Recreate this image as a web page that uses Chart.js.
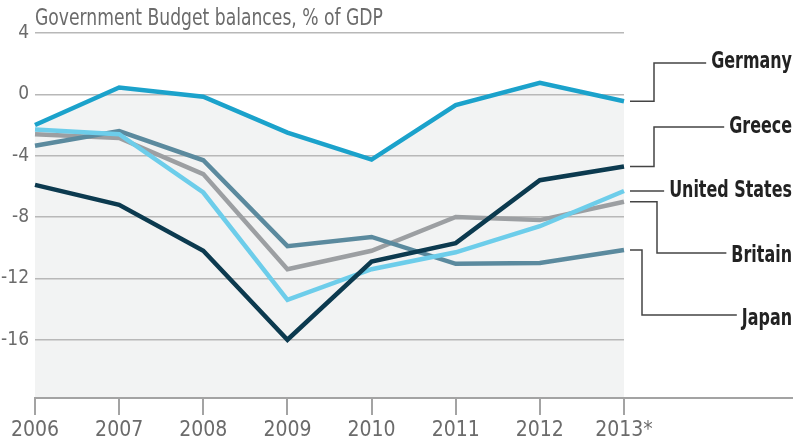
<!DOCTYPE html>
<html><head><meta charset="utf-8">
<script src="https://cdn.jsdelivr.net/npm/chart.js@4"></script>
<style>html,body{margin:0;padding:0;background:#fff}canvas{display:block}</style>
</head><body>
<canvas id="c" width="793" height="443"></canvas>
<script>
// ---- data ----
const years = ['2006','2007','2008','2009','2010','2011','2012','2013*'];
const germany      = [-2.0, 0.45, -0.15, -2.5, -4.25, -0.7, 0.75, -0.45];
const greece       = [-5.9, -7.2, -10.2, -16.0, -10.9, -9.7, -5.6, -4.7];
const unitedStates = [-2.3, -2.6, -6.4, -13.4, -11.4, -10.3, -8.6, -6.3];
const britain      = [-2.6, -2.85, -5.2, -11.4, -10.2, -8.0, -8.2, -7.0];
const japan        = [-3.35, -2.4, -4.3, -9.9, -9.3, -11.05, -11.0, -10.15];
const yTicks = [4, 0, -4, -8, -12, -16];
const titleText = 'Government Budget balances, % of GDP';

// ---- styles / layout ----
const FONT = '"DejaVu Sans Condensed","Liberation Sans Narrow","Arial Narrow",sans-serif';
const TXT = '#6b6b6b';
const series = [
  {name:'Germany',       data:germany,      color:'#1ba2cb', order:5, lab:{base:68,  elbowY:63,   elbowX:654}},
  {name:'Greece',        data:greece,       color:'#0c3a4f', order:1, lab:{base:133, elbowY:127,  elbowX:654}},
  {name:'United States', data:unitedStates, color:'#6dcdea', order:2, lab:{base:197, elbowY:null, elbowX:646}},
  {name:'Britain',       data:britain,      color:'#9c9fa2', order:4, lab:{base:262, elbowY:253,  elbowX:657}},
  {name:'Japan',         data:japan,        color:'#5b8a9e', order:3, lab:{base:325, elbowY:315,  elbowX:642}}
];

// draw horizontally condensed text
function squeezeText(ctx, text, x, y, sx, align) {
  ctx.save();
  ctx.translate(x, y);
  ctx.scale(sx, 1);
  ctx.textAlign = align;
  ctx.fillText(text, 0, 0);
  ctx.restore();
}

const annot = {
  id: 'annot',
  afterDraw(chart) {
    const ctx = chart.ctx, xs = chart.scales.x, ys = chart.scales.y, ca = chart.chartArea;
    ctx.save();
    // title
    ctx.font = '23px ' + FONT;
    ctx.fillStyle = TXT;
    ctx.textBaseline = 'alphabetic';
    squeezeText(ctx, titleText, ca.left, 25, 0.83, 'left');
    // extend x axis line to the right edge
    ctx.strokeStyle = '#a3a3a3';
    ctx.lineWidth = 2;
    ctx.beginPath();
    ctx.moveTo(ca.right, xs.top);
    ctx.lineTo(chart.width, xs.top);
    ctx.stroke();
    // labels and connectors
    ctx.font = 'bold 23px ' + FONT;
    const rightX = chart.width - 1;
    const SX = 0.77;
    series.forEach((s) => {
      const last = s.data.length - 1;
      const x0 = xs.getPixelForValue(last) + 6;
      const y0 = ys.getPixelForValue(s.data[last]);
      const yE = s.lab.elbowY === null ? y0 : s.lab.elbowY;
      const w = ctx.measureText(s.name).width * SX;
      const xEnd = rightX - w - 5;
      ctx.strokeStyle = '#444';
      ctx.lineWidth = 1.5;
      ctx.beginPath();
      ctx.moveTo(x0, y0);
      ctx.lineTo(s.lab.elbowX, y0);
      ctx.lineTo(s.lab.elbowX, yE);
      ctx.lineTo(xEnd, yE);
      ctx.stroke();
      ctx.fillStyle = '#222';
      squeezeText(ctx, s.name, rightX, s.lab.base, SX, 'right');
    });
    ctx.restore();
  }
};

new Chart(document.getElementById('c'), {
  type: 'line',
  data: {
    labels: years,
    datasets: series.map(s => ({
      label: s.name,
      data: s.data,
      borderColor: s.color,
      backgroundColor: '#f2f3f3',
      fill: s.name === 'Germany' ? 'start' : false,
      borderWidth: 4.5,
      pointRadius: 0,
      tension: 0,
      borderJoinStyle: 'miter',
      order: s.order
    }))
  },
  options: {
    responsive: false,
    devicePixelRatio: 1,
    animation: false,
    layout: {padding: {left: 0, right: 169, top: 33, bottom: 0}},
    plugins: {
      legend: {display: false},
      tooltip: {enabled: false},
      filler: {drawTime: 'beforeDraw'}
    },
    scales: {
      x: {
        type: 'category',
        offset: false,
        afterFit: s => { s.height = 45; },
        grid: {display: true, drawOnChartArea: false, drawTicks: true, tickLength: 17, color: '#a3a3a3', lineWidth: 2},
        border: {display: true, color: '#a3a3a3', width: 2},
        ticks: {font: {family: FONT, size: 21}, color: TXT, padding: 3, maxRotation: 0, autoSkip: false}
      },
      y: {
        min: -19.8, max: 4,
        afterFit: s => { s.width = 35; },
        afterBuildTicks: s => { s.ticks = yTicks.map(v => ({value: v})); },
        grid: {color: '#b8b8b8', lineWidth: 1.5, drawTicks: false},
        border: {display: false},
        ticks: {font: {family: FONT, size: 19}, color: TXT, padding: 6}
      }
    }
  },
  plugins: [annot]
});
</script>
</body></html>
